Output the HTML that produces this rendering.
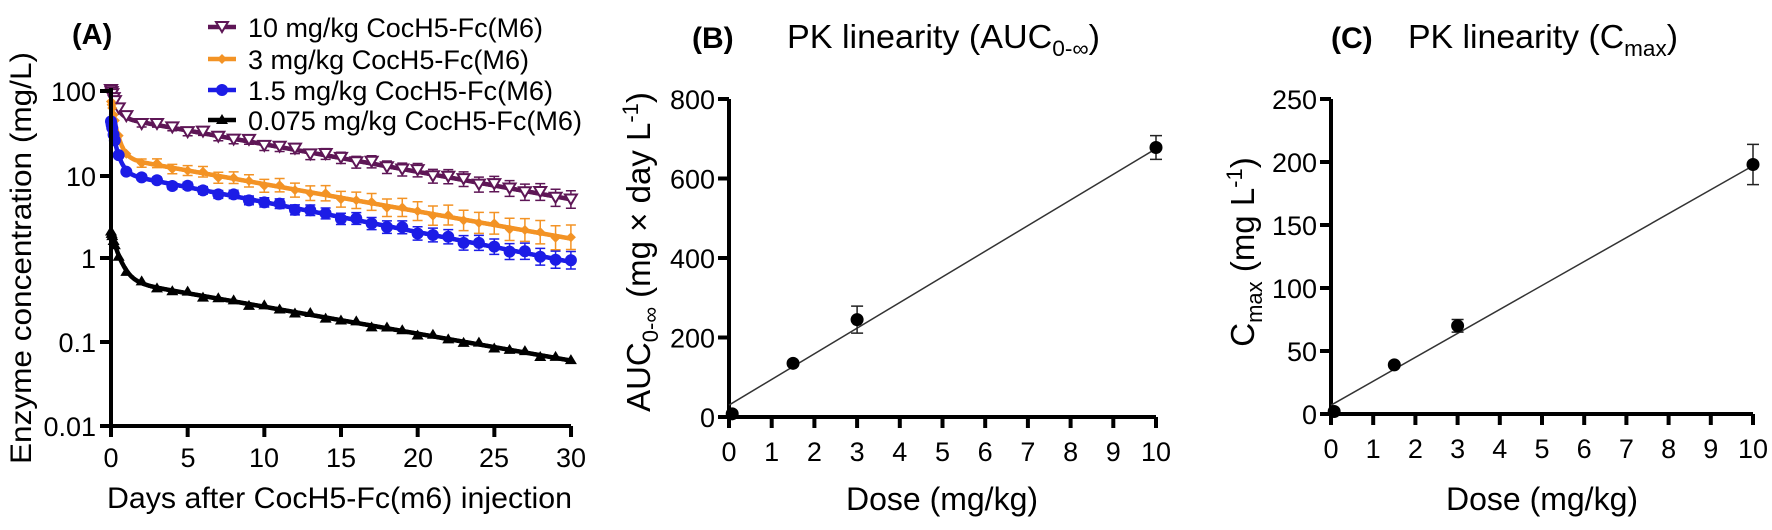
<!DOCTYPE html>
<html><head><meta charset="utf-8"><style>
html,body{margin:0;padding:0;background:#fff;}
svg{display:block;font-family:"Liberation Sans",Arial,sans-serif;}
</style></head><body>
<svg id="s" width="1772" height="530" viewBox="0 0 1772 530" xmlns="http://www.w3.org/2000/svg">
<rect width="1772" height="530" fill="#fff"/>
<text x="72" y="44" font-size="29" font-weight="bold">(A)</text>
<text transform="translate(31,258) rotate(-90)" font-size="30" text-anchor="middle" textLength="412" lengthAdjust="spacingAndGlyphs">Enzyme concentration (mg/L)</text>
<text x="107" y="508" font-size="30" textLength="465" lengthAdjust="spacingAndGlyphs">Days after CocH5-Fc(m6) injection</text>
<g font-size="27" text-anchor="end">
<text x="96" y="101">100</text><text x="96" y="186">10</text><text x="96" y="268">1</text><text x="96" y="352">0.1</text><text x="96" y="436">0.01</text>
</g>
<g font-size="27" text-anchor="middle">
<text x="111" y="467">0</text><text x="188" y="467">5</text><text x="264" y="467">10</text><text x="341" y="467">15</text><text x="418" y="467">20</text><text x="494" y="467">25</text><text x="571" y="467">30</text>
</g>
<g font-size="27">
<text x="248" y="37" textLength="295" lengthAdjust="spacingAndGlyphs">10 mg/kg CocH5-Fc(M6)</text>
<text x="248" y="69" textLength="281" lengthAdjust="spacingAndGlyphs">3 mg/kg CocH5-Fc(M6)</text>
<text x="248" y="100" textLength="305" lengthAdjust="spacingAndGlyphs">1.5 mg/kg CocH5-Fc(M6)</text>
<text x="248" y="130" textLength="334" lengthAdjust="spacingAndGlyphs">0.075 mg/kg CocH5-Fc(M6)</text>
</g>
<g id="A"></g>
<text x="692" y="48" font-size="30" font-weight="bold">(B)</text>
<text x="787" y="48" font-size="33" textLength="313" lengthAdjust="spacingAndGlyphs">PK linearity (AUC<tspan font-size="22" dy="8">0-∞</tspan><tspan dy="-8">)</tspan></text>
<text transform="translate(650,252) rotate(-90)" font-size="33" text-anchor="middle">AUC<tspan font-size="22" dy="8">0-∞</tspan><tspan dy="-8"> (mg × day L</tspan><tspan font-size="22" dy="-12">-1</tspan><tspan dy="12">)</tspan></text>
<text x="942" y="510" font-size="32" text-anchor="middle">Dose (mg/kg)</text>
<g id="B"></g>
<text x="1331" y="48" font-size="30" font-weight="bold">(C)</text>
<text x="1408" y="48" font-size="33" textLength="270" lengthAdjust="spacingAndGlyphs">PK linearity (C<tspan font-size="22" dy="8">max</tspan><tspan dy="-8">)</tspan></text>
<text transform="translate(1254,252) rotate(-90)" font-size="33" text-anchor="middle">C<tspan font-size="22" dy="8">max</tspan><tspan dy="-8"> (mg L</tspan><tspan font-size="22" dy="-12">-1</tspan><tspan dy="12">)</tspan></text>
<text x="1542" y="510" font-size="32" text-anchor="middle">Dose (mg/kg)</text>
<g id="C"></g>
</svg>
<script>
var NS="http://www.w3.org/2000/svg";
function el(p,t,a,txt){var e=document.createElementNS(NS,t);for(var k in a)e.setAttribute(k,a[k]);if(txt!==undefined)e.textContent=txt;p.appendChild(e);return e;}
var A=document.getElementById("A");
function ax(t){return 111+t*15.33;}
function ay(c){return 426-(Math.log10(c)+2)*84;}
var series=[
 {col:"#5e1656",A:52,a:3,B:48,b:0.0754,m:"tri",err:2.5},
 {col:"#f39325",A:54,a:3,B:16,b:0.0747,m:"dia",err:3.5},
 {col:"#1c1ce6",A:30,a:3,B:10.5,b:0.082,m:"dot",err:2.5},
 {col:"#000",A:1.5,a:2,B:0.55,b:0.0738,m:"up",err:0}
];
var times=[0,0.04,0.08,0.17,0.25,0.5,1];for(var d=2;d<=30;d++)times.push(d);
series.forEach(function(s,i){
 function f(t){return s.A*Math.exp(-s.a*t)+s.B*Math.exp(-s.b*t);}
 var p="";for(var t=0;t<=30;t+=0.02){p+=(t==0?"M":"L")+ax(t).toFixed(1)+","+ay(f(t)).toFixed(1);}
 el(A,"path",{d:p,fill:"none",stroke:s.col,"stroke-width":4.5});
 times.forEach(function(t){
  var c=f(t)*(1+0.05*Math.sin(t*2.3+i)),x=ax(t),y=ay(c);
  var e=s.err*(1+t/12);
  if(t>1&&e>0){el(A,"path",{d:"M"+x+","+(y-e)+"V"+(y+e)+"M"+(x-5)+","+(y-e)+"h10M"+(x-5)+","+(y+e)+"h10",stroke:s.col,"stroke-width":1.5,fill:"none"});}
  mark(A,s.m,x,y,s.col);
 });
});
function mark(p,m,x,y,col){
 if(m=="tri")el(p,"path",{d:"M"+(x-6)+","+(y-5)+"h12l-6,10z",fill:"#fff",stroke:col,"stroke-width":2});
 else if(m=="dia")el(p,"path",{d:"M"+x+","+(y-5)+"l5,5l-5,5l-5,-5z",fill:col});
 else if(m=="dot")el(p,"circle",{cx:x,cy:y,r:6,fill:col});
 else el(p,"path",{d:"M"+x+","+(y-6)+"l6,10h-12z",fill:col});
}
var leg=[["tri","#5e1656",27],["dia","#f39325",59],["dot","#1c1ce6",90],["up","#000",120]];
leg.forEach(function(l){el(A,"line",{x1:208,x2:236,y1:l[2],y2:l[2],stroke:l[1],"stroke-width":4.5});mark(A,l[0],222,l[2],l[1]);});
el(A,"path",{d:"M111,88V426H571",fill:"none",stroke:"#000","stroke-width":4});
[91,176,258,342,426].forEach(function(y){el(A,"line",{x1:100,x2:111,y1:y,y2:y,stroke:"#000","stroke-width":4});});
for(var k=0;k<=6;k++){var x=111+k*76.67;el(A,"line",{x1:x,x2:x,y1:426,y2:437,stroke:"#000","stroke-width":4});}
function lin(id,x0,y0,ytop,ymax,ystep,pts,l0,l10){
 var g=document.getElementById(id),xs=(id=="B"?42.7:42.2);
 function X(d){return x0+d*xs;} function Y(v){return y0-(v/ymax)*(y0-ytop);}
 el(g,"path",{d:"M"+x0+","+ytop+"V"+y0+"H"+X(10),fill:"none",stroke:"#000","stroke-width":4});
 for(var v=0;v<=ymax;v+=ystep){var y=Y(v);el(g,"line",{x1:x0-11,x2:x0,y1:y,y2:y,stroke:"#000","stroke-width":4});el(g,"text",{x:x0-14,y:y+10,"font-size":27,"text-anchor":"end"},String(v));}
 for(var d=0;d<=10;d++){var x=X(d);el(g,"line",{x1:x,x2:x,y1:y0,y2:y0+11,stroke:"#000","stroke-width":4});el(g,"text",{x:x,y:y0+44,"font-size":27,"text-anchor":"middle"},String(d));}
 el(g,"line",{x1:X(0),y1:Y(l0),x2:X(10),y2:Y(l10),stroke:"#333","stroke-width":1.5});
 pts.forEach(function(p){var x=X(p[0]);if(p[2]){el(g,"path",{d:"M"+x+","+Y(p[1]+p[2])+"V"+Y(p[1]-p[2])+"M"+(x-6)+","+Y(p[1]+p[2])+"h12M"+(x-6)+","+Y(p[1]-p[2])+"h12",stroke:"#222","stroke-width":1.5,fill:"none"});}
  el(g,"circle",{cx:x,cy:Y(p[1]),r:6.5,fill:"#000"});});
}
lin("B",729,417,99,800,200,[[0.075,8,0],[1.5,135,0],[3,245,34],[10,678,30]],30,675);
lin("C",1331,414,99,250,50,[[0.075,2,0],[1.5,39,0],[3,70,5],[10,198,16]],7,197);
</script>
</body></html>
